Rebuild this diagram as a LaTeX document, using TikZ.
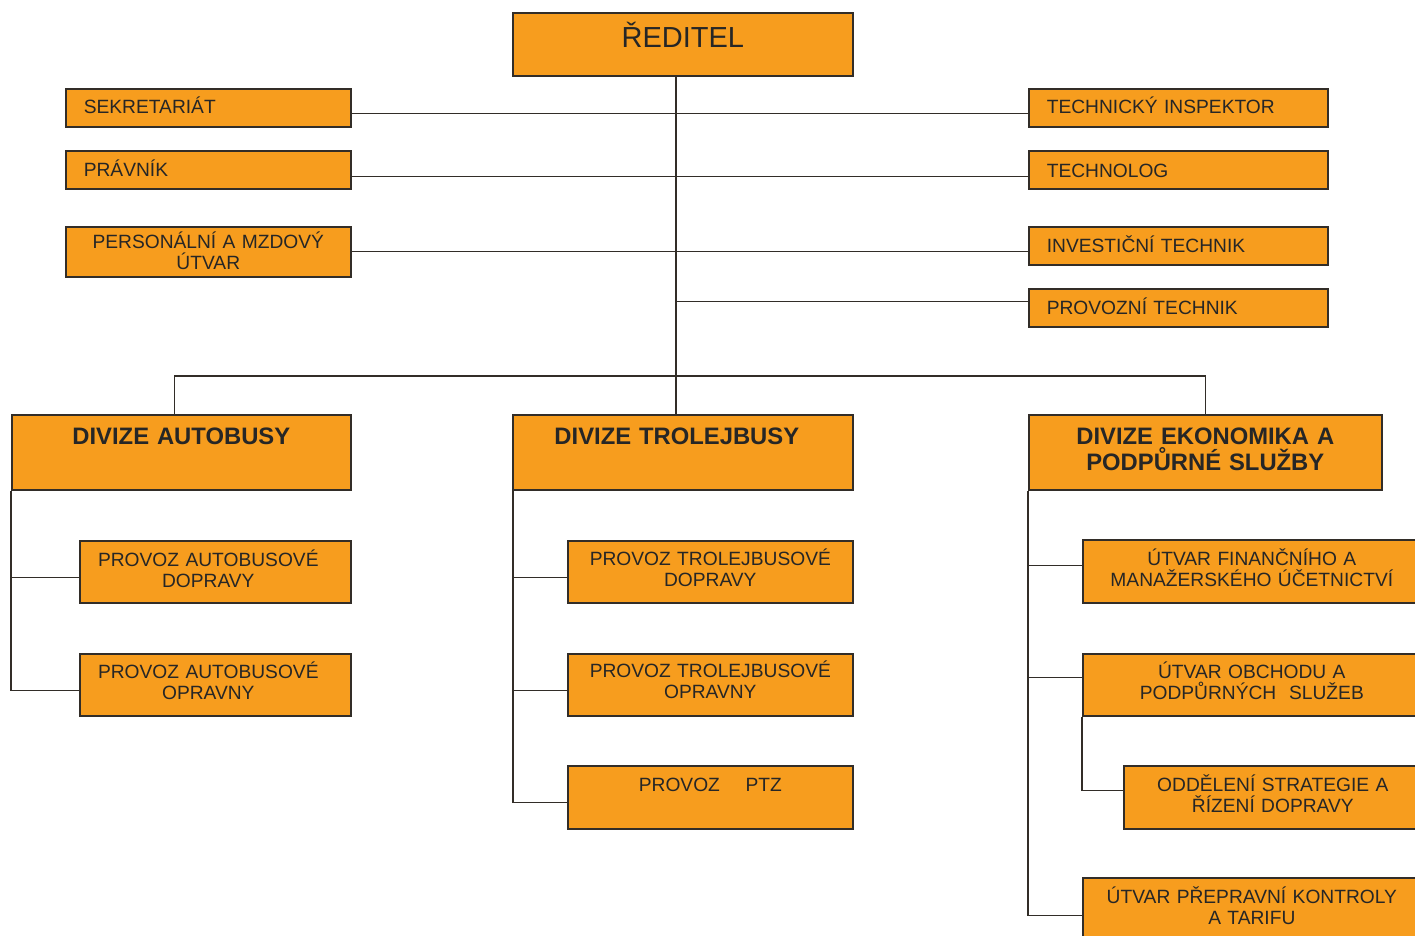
\documentclass[tikz,border=0pt]{standalone}
\usepackage{fontspec}
\setmainfont{Liberation Sans}
\definecolor{unitfill}{RGB}{247,157,30}
\definecolor{unitline}{RGB}{50,45,40}
\newcommand{\unitfont}{\fontsize{19.2}{21}\selectfont}
\newcommand{\headfont}{\fontsize{23.8}{26}\selectfont\bfseries}
\newcommand{\topfont}{\fontsize{29}{32}\selectfont}
\newcommand{\padright}[1]{\rule{#1}{0pt}}
\tikzset{
	unit/.style={draw=unitline, fill=unitfill, line width=1.6pt, inner sep=0pt, anchor=north west, align=center, font=\unitfont, text=black!85},
	leftunit/.style={unit, align=left, inner xsep=18pt},
	link/.style={draw=unitline, line width=1.3pt}
}
\begin{document}
\begin{tikzpicture}[x=1pt,y=-1pt]
				\path[use as bounding box, clip] (0,0) rectangle (1415,936);
				\node (reditel) [unit, font=\topfont, at={(512,12)}, text width=340pt, text height=35pt, text depth=28pt]{ŘEDITEL};
				\node (sekretariat) [leftunit, at={(65,88)}, text width=249pt, text height=25pt, text depth=13pt]{SEKRETARIÁT};
				\node (pravnik) [leftunit, at={(65,150)}, text width=249pt, text height=26pt, text depth=12pt]{PRÁVNÍK};
				\node (personal) [unit, at={(65,226)}, text width=285pt, text height=22pt, text depth=28pt]{PERSONÁLNÍ A MZDOVÝ\\ ÚTVAR};
				\node (techinsp) [leftunit, at={(1028,88)}, text width=263pt, text height=25pt, text depth=13pt]{TECHNICKÝ INSPEKTOR};
				\node (technolog) [leftunit, at={(1028,150)}, text width=263pt, text height=27pt, text depth=11pt]{TECHNOLOG};
				\node (investicni) [leftunit, at={(1028,226)}, text width=263pt, text height=26pt, text depth=12pt]{INVESTIČNÍ TECHNIK};
				\node (provtech) [leftunit, at={(1028,288)}, text width=263pt, text height=26pt, text depth=12pt]{PROVOZNÍ TECHNIK};
				%divize
				\node (autobusy) [unit, font=\headfont, at={(11,414)}, text width=339pt, text height=30pt, text depth=45pt]{DIVIZE AUTOBUSY};
				\node (trolejbusy) [unit, font=\headfont, at={(512,414)}, text width=340pt, text height=30pt, text depth=45pt]{DIVIZE TROLEJBUSY\padright{12pt}};
				\node (ekonomika) [unit, font=\headfont, at={(1028,414)}, text width=353pt, text height=30pt, text depth=45pt]{DIVIZE EKONOMIKA A\\ PODPŮRNÉ SLUŽBY};
				\node (provad) [unit, at={(79,540)}, text width=271pt, text height=26pt, text depth=36pt]{PROVOZ AUTOBUSOVÉ\padright{14pt}\\ DOPRAVY\padright{14pt}};
				\node (provao) [unit, at={(79,653)}, text width=271pt, text height=25pt, text depth=37pt]{PROVOZ AUTOBUSOVÉ\padright{14pt}\\ OPRAVNY\padright{14pt}};
				\node (provtd) [unit, at={(567,540)}, text width=285pt, text height=25pt, text depth=37pt]{PROVOZ TROLEJBUSOVÉ\\ DOPRAVY};
				\node (provto) [unit, at={(567,653)}, text width=285pt, text height=24pt, text depth=38pt]{PROVOZ TROLEJBUSOVÉ\\ OPRAVNY};
				\node (ptz) [unit, at={(567,765)}, text width=285pt, text height=26pt, text depth=37pt]{PROVOZ \ \ \ PTZ};
				\node (financ) [unit, at={(1082,539)}, text width=338pt, text height=26pt, text depth=37pt]{ÚTVAR FINANČNÍHO A\\ MANAŽERSKÉHO ÚČETNICTVÍ};
				\node (obchod) [unit, at={(1082,653)}, text width=338pt, text height=25pt, text depth=37pt]{ÚTVAR OBCHODU A\\ PODPŮRNÝCH \ SLUŽEB};
				\node (strateg) [unit, at={(1123,765)}, text width=298pt, text height=26pt, text depth=37pt]{ODDĚLENÍ STRATEGIE A\\ ŘÍZENÍ DOPRAVY};
				\node (kontrol) [unit, at={(1082,877)}, text width=338pt, text height=26pt, text depth=37pt]{ÚTVAR PŘEPRAVNÍ KONTROLY\\ A TARIFU};
				\coordinate (split) at (676,376);
				\draw[link] (split |- reditel.south)--(split |- trolejbusy.north);
				\draw[link] ([yshift=-6pt]sekretariat.east)--([yshift=-6pt]techinsp.west);
				\draw[link] ([yshift=-7pt]pravnik.east)--([yshift=-7pt]technolog.west);
				\draw[link] (personal.east)--([yshift=-6pt]investicni.west);
				\draw[link] ([yshift=6pt]provtech.west) -| (split);
				\draw[link] ([xshift=-6.5pt]autobusy.north) |- (split) -| (ekonomika.north);
				\draw[link] ([yshift=-6pt]provad.west) -| (autobusy.south west);
				\draw[link] ([yshift=-6pt]provao.west) -| (autobusy.south west);
				\draw[link] ([yshift=-6pt]provtd.west) -| ([xshift=1pt]trolejbusy.south west);
				\draw[link] ([yshift=-6pt]provto.west) -| ([xshift=1pt]trolejbusy.south west);
				\draw[link] ([yshift=-5.5pt]ptz.west) -| ([xshift=1pt]trolejbusy.south west);
				\draw[link] ([yshift=5.5pt]financ.west) -| (ekonomika.south west);
				\draw[link] ([yshift=7pt]obchod.west) -| (ekonomika.south west);
				\draw[link] ([yshift=-6.5pt]kontrol.west) -| (ekonomika.south west);
				\draw[link] ([yshift=6.5pt]strateg.west) -| (obchod.south west);
\end{tikzpicture}
\end{document}
